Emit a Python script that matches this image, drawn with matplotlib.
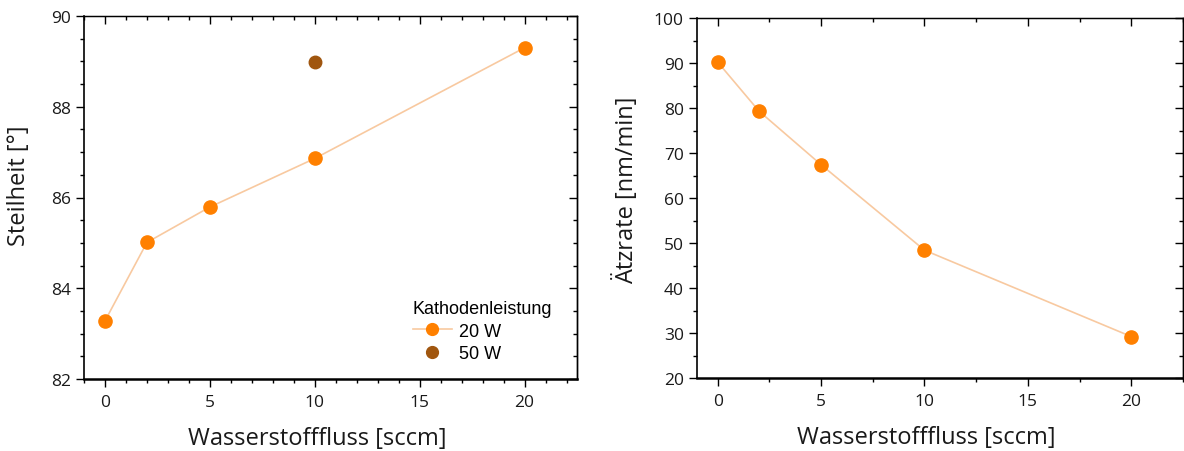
import matplotlib
matplotlib.use("Agg")
import matplotlib.pyplot as plt
from matplotlib.ticker import MultipleLocator
from matplotlib.lines import Line2D

# Data
flow_20w = [0, 2, 5, 10, 20]
steilheit_20w = [83.28, 85.01, 85.79, 86.86, 89.30]
flow_50w = [10]
steilheit_50w = [88.98]
aetzrate_20w = [90.2, 79.3, 67.4, 48.4, 29.2]

legend_title = "Kathodenleistung"
legend_labels = ["20 W", "50 W"]
xlabel = "Wasserstofffluss [sccm]"
ylabel_left = "Steilheit [°]"
ylabel_right = "Ätzrate [nm/min]"

ORANGE = "#FF8000"
LINE = "#F8C9A0"
BROWN = "#A0560F"
TXT = "#1a1a1a"

plt.rcParams['font.family'] = ['Open Sans', 'DejaVu Sans']

fig = plt.figure(figsize=(11.84, 4.52), dpi=100)
axL = fig.add_axes([84/1184, 1-380/452, 493/1184, 363/452])
axR = fig.add_axes([697/1184, 1-379/452, 486/1184, 360/452])

def style(ax, xminor, ymajor, yminor, ylim):
    ax.set_xlim(-1, 22.5)
    ax.set_ylim(*ylim)
    ax.xaxis.set_major_locator(MultipleLocator(5))
    ax.xaxis.set_minor_locator(MultipleLocator(xminor))
    ax.yaxis.set_major_locator(MultipleLocator(ymajor))
    ax.yaxis.set_minor_locator(MultipleLocator(yminor))
    ax.tick_params(which='major', direction='out', length=6, width=1.0,
                   labelsize=12.5, labelcolor=TXT, pad=3.5)
    ax.tick_params(which='minor', direction='out', length=3.2, width=1.0)
    ax.tick_params(axis='x', which='major', pad=5)
    ax.spines['left'].set_linewidth(1.2)
    ax.spines['bottom'].set_linewidth(1.8)
    ax.spines['top'].set_linewidth(0.9)
    ax.spines['right'].set_linewidth(1.0)
    top = ax.secondary_xaxis('top')
    top.xaxis.set_major_locator(MultipleLocator(5))
    top.xaxis.set_minor_locator(MultipleLocator(xminor))
    top.tick_params(which='major', direction='in', length=6, width=1.0, labeltop=False)
    top.tick_params(which='minor', direction='in', length=3.2, width=1.0)
    top.spines['top'].set_linewidth(0.9)
    right = ax.secondary_yaxis('right')
    right.yaxis.set_major_locator(MultipleLocator(ymajor))
    right.yaxis.set_minor_locator(MultipleLocator(yminor))
    right.tick_params(which='major', direction='in', length=6, width=1.0, labelright=False)
    right.tick_params(which='minor', direction='in', length=3.2, width=1.0)
    right.spines['right'].set_linewidth(1.0)

style(axL, 1, 2, 0.5, (82, 90))
style(axR, 2.5, 10, 5, (20, 100))

axL.plot(flow_20w, steilheit_20w, color=LINE, lw=1.2, zorder=2)
axL.plot(flow_20w, steilheit_20w, 'o', color=ORANGE, ms=9.5, mec=ORANGE, zorder=3)
axL.plot(flow_50w, steilheit_50w, 'o', color=BROWN, ms=9, mec=BROWN, zorder=3)

axR.plot(flow_20w, aetzrate_20w, color=LINE, lw=1.2, zorder=2)
axR.plot(flow_20w, aetzrate_20w, 'o', color=ORANGE, ms=9.5, mec=ORANGE, zorder=3)

for ax, yl, xx, yx, yy in ((axL, ylabel_left, 0.473, -0.107, 0.535),
                           (axR, ylabel_right, 0.471, -0.12, 0.525)):
    ax.set_xlabel(xlabel, fontsize=17, color=TXT)
    ax.xaxis.set_label_coords(xx, -0.13)
    ax.set_ylabel(yl, fontsize=17, color=TXT)
    ax.yaxis.set_label_coords(yx, yy)

handles = [
    Line2D([], [], color=LINE, lw=1.2, marker='o', ms=8.5, mfc=ORANGE, mec=ORANGE),
    Line2D([], [], color='none', lw=0, marker='o', ms=8.5, mfc=BROWN, mec=BROWN),
]
leg = axL.legend(handles, legend_labels, title=legend_title, loc='lower right',
                 bbox_to_anchor=(0.975, 0.012), frameon=False,
                 prop={'family': 'Liberation Sans', 'size': 13},
                 title_fontproperties={'family': 'Liberation Sans', 'size': 13},
                 handlelength=2.2, handletextpad=0.35, labelspacing=0.3,
                 borderpad=0.2)
leg._legend_box.align = "left"

fig.savefig("out.png", dpi=100)
